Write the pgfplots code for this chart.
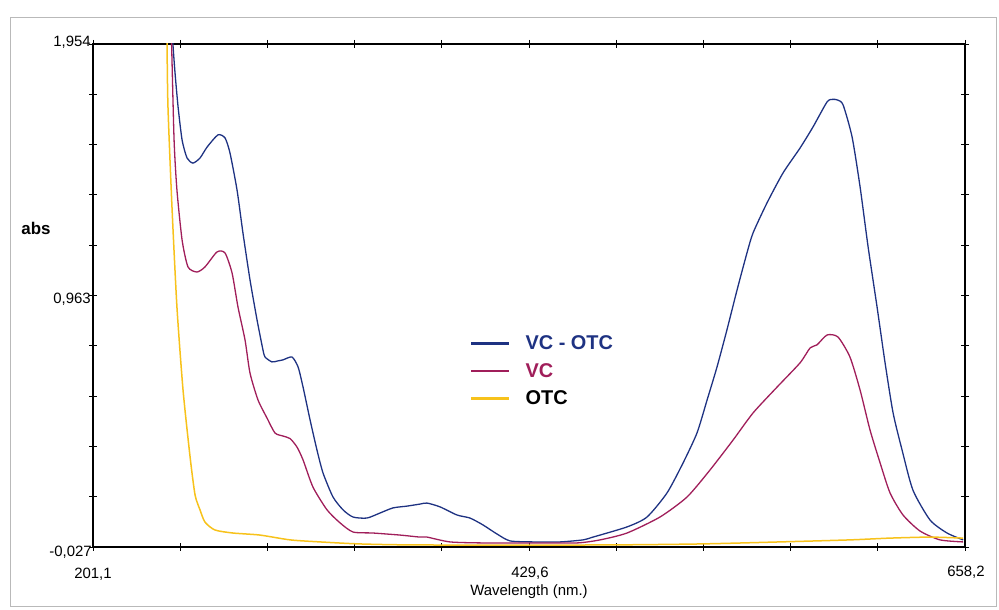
\documentclass[border=0pt]{standalone}
\usepackage{fontspec}
\setmainfont{Liberation Sans}
\usepackage{pgfplots}
\pgfplotsset{compat=1.18}
\definecolor{cnavy}{RGB}{30,50,130}
\definecolor{cmag}{RGB}{160,30,90}
\definecolor{cyel}{RGB}{247,194,27}
\begin{document}
\begin{tikzpicture}[x=1bp,y=1bp]
\useasboundingbox (0,0) rectangle (999,610);
\draw[gray!55, line width=1bp] (10,3) rectangle (996,592);
\begin{axis}[
  at={(93bp,63bp)}, anchor=south west,
  scale only axis, width=872bp, height=503bp,
  xmin=201.1, xmax=658.2, ymin=-0.027, ymax=1.954,
  xtick={201.1,246.81,292.52,338.23,383.94,429.65,475.36,521.07,566.78,612.49,658.2},
  ytick={-0.027,0.1711,0.3692,0.5673,0.7654,0.9635,1.1616,1.3597,1.5578,1.7559,1.954},
  xticklabels={}, yticklabels={},
  tick align=center, major tick length=8bp,
  tick style={black, line width=0.9bp},
  axis line style={black, line width=1.5bp},
  legend style={at={(0.4289,0.426)}, anchor=north west, draw=none, fill=none,
    font=\fontsize{20}{23}\selectfont\bfseries, row sep=10bp, column sep=14bp,
    nodes={inner sep=1bp}},
  legend cell align=left,
  legend image code/.code={\draw[#1, line width=2.4bp] (0bp,0bp) -- (38bp,0bp);},
  every axis plot/.append style={smooth, tension=0.4},
]
\addplot[cnavy, line width=1.3bp] coordinates {
(242.0,2.10) (243.0,1.954) (244.1,1.840) (245.7,1.706) (247.8,1.576) (250.4,1.505)
(253.5,1.485) (257.2,1.505) (260.9,1.548) (266.6,1.596) (270.3,1.584) (272.9,1.525)
(276.6,1.379) (279.7,1.210) (283.4,1.025) (287.1,0.867) (290.2,0.749) (291.3,0.721)
(294.9,0.702) (298.1,0.706) (300.7,0.710) (305.4,0.721) (308.6,0.682) (311.2,0.603)
(314.9,0.473) (318.5,0.355) (321.7,0.264) (326.9,0.170) (332.2,0.119) (337.4,0.091)
(344.7,0.087) (351.6,0.107) (358.4,0.127) (365.7,0.134) (372.5,0.142) (376.2,0.146)
(383.0,0.131) (391.9,0.099) (398.7,0.087) (405.5,0.060) (412.9,0.024) (419.7,-0.003)
(431.8,-0.007) (445.9,-0.007) (458.0,0.001) (463.2,0.012) (481.0,0.052) (491.5,0.091)
(502.0,0.186) (510.4,0.304) (517.7,0.422) (523.0,0.552) (528.2,0.682) (533.4,0.828)
(538.7,0.985) (543.9,1.131) (547.1,1.210) (554.4,1.328) (562.8,1.446) (571.7,1.544)
(578.5,1.627) (585.9,1.726) (589.0,1.736) (591.5,1.733) (594.3,1.714) (599.0,1.588) (603.2,1.391)
(607.4,1.155) (612.1,0.918) (616.3,0.698) (620.5,0.501) (625.2,0.355) (630.9,0.197)
(639.9,0.079) (648.8,0.028) (657.2,0.001)
};
\addlegendentry{\textcolor{cnavy}{VC - OTC}}
\addplot[cmag, line width=1.3bp] coordinates {
(241.8,2.10) (242.3,1.954) (243.6,1.576) (245.1,1.379) (247.8,1.182) (250.9,1.076)
(255.6,1.056) (259.8,1.076) (266.1,1.135) (270.3,1.131) (274.0,1.052) (277.1,0.918)
(280.8,0.788) (283.4,0.658) (287.6,0.552) (292.3,0.481) (296.5,0.422) (300.7,0.410)
(304.4,0.400) (308.0,0.367) (311.2,0.316) (316.4,0.209) (323.8,0.119) (330.6,0.068)
(337.4,0.032) (347.9,0.028) (362.0,0.020) (372.5,0.012) (376.2,0.012) (388.2,-0.007)
(405.5,-0.011) (431.8,-0.011) (454.8,-0.011) (466.9,0.001) (481.0,0.028) (498.3,0.091)
(512.5,0.170) (524.5,0.276) (536.6,0.394) (547.1,0.501) (559.7,0.603) (571.7,0.698)
(577.0,0.757) (580.6,0.769) (585.9,0.808) (591.6,0.800) (597.9,0.721) (603.2,0.591)
(608.4,0.434) (613.7,0.304) (618.9,0.186) (625.7,0.099) (634.6,0.036) (645.1,0.001)
(657.2,-0.007)
};
\addlegendentry{\textcolor{cmag}{VC}}
\addplot[cyel, line width=1.5bp] coordinates {
(239.6,2.10) (239.9,1.954) (240.4,1.706) (242.5,1.312) (245.1,0.918) (248.3,0.591)
(252.0,0.327) (254.6,0.178) (257.2,0.119) (259.8,0.071) (265.0,0.040) (274.5,0.028)
(288.6,0.020) (304.4,0.001) (320.1,-0.007) (341.1,-0.015) (372.5,-0.019) (466.9,-0.019)
(519.3,-0.015) (561.2,-0.007) (597.9,0.001) (618.9,0.008) (639.9,0.012) (657.2,0.008)
};
\addlegendentry{\textcolor{black}{OTC}}
\end{axis}
\node[anchor=east, font=\fontsize{15}{18}\selectfont, inner sep=0pt] at (91,568) {1,954};
\node[anchor=east, font=\fontsize{15}{18}\selectfont, inner sep=0pt] at (91,311) {0,963};
\node[anchor=east, font=\fontsize{15}{18}\selectfont, inner sep=0pt] at (92,58) {-0,027};
\node[font=\fontsize{15}{18}\selectfont, inner sep=0pt] at (93,36) {201,1};
\node[font=\fontsize{15}{18}\selectfont, inner sep=0pt] at (530,37) {429,6};
\node[font=\fontsize{15}{18}\selectfont, inner sep=0pt] at (966,38) {658,2};
\node[font=\fontsize{15}{18}\selectfont, inner sep=0pt] at (529,18) {Wavelength (nm.)};
\node[font=\fontsize{17}{20}\selectfont\bfseries, inner sep=0pt] at (36,382) {abs};
\end{tikzpicture}
\end{document}
